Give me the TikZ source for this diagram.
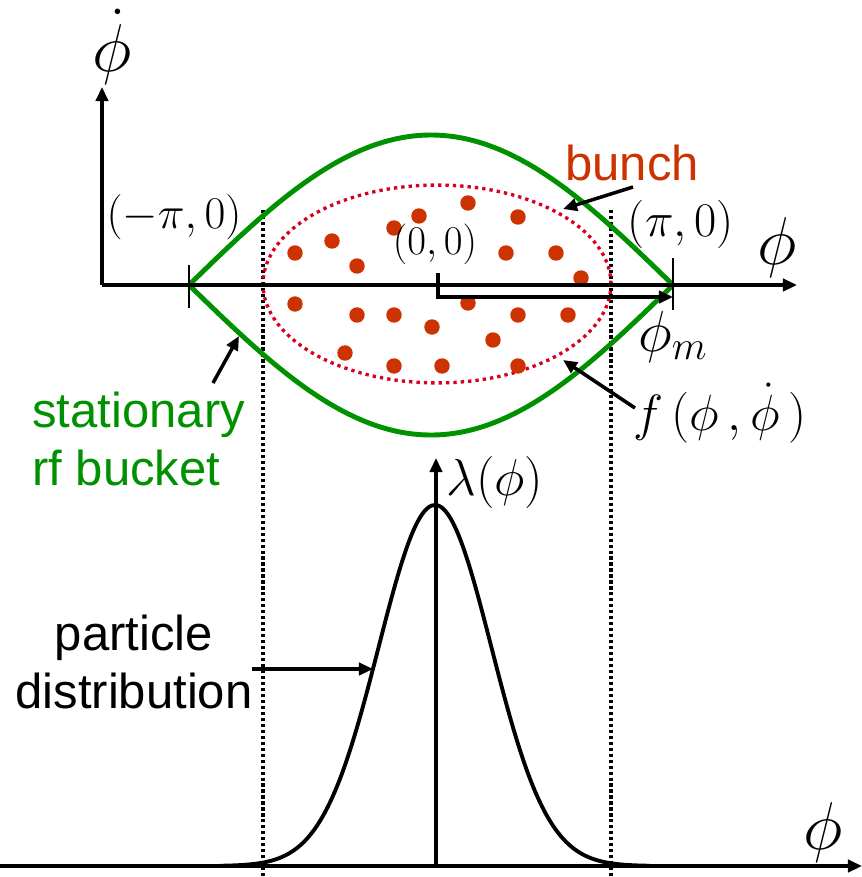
\RequirePackage{fix-cm}
\documentclass[tikz,border=0pt]{standalone}
\usepackage{fontspec}
\newfontfamily\arialf{Liberation Sans}
\usetikzlibrary{arrows.meta}
\definecolor{bucketgreen}{RGB}{0,145,0}
\definecolor{bunchred}{RGB}{204,51,0}
\definecolor{ellred}{RGB}{215,0,30}
\begin{document}
\begin{tikzpicture}[x=0.02cm,y=-0.02cm,
  axis/.style={line width=2pt,-{Triangle[length=8pt,width=7pt]}},
  pointer/.style={line width=2pt,-{Triangle[length=8pt,width=7pt]}},
  guide/.style={line width=2pt,dash pattern=on 1.8pt off 1.6pt},
  bucket/.style={draw=bucketgreen,line width=2.8pt},
  tick/.style={line width=1.4pt},
  lbl/.style={inner sep=0pt},
  sanslbl/.style={inner sep=0pt,font=\arialf\fontsize{27.9pt}{33pt}\selectfont},
  particle/.style={fill=bunchred}
]
\useasboundingbox (0,0) rectangle (862,877);

% guide lines
\coordinate (gl1) at (263,210); \coordinate (gl2) at (263,877);
\coordinate (gr1) at (611,210); \coordinate (gr2) at (611,877);
\draw[guide] (gl1) -- (gl2);
\draw[guide] (gr1) -- (gr2);

% bucket (separatrix)
\draw[bucket] plot[domain=-180:180,samples=91,smooth] ({431+242*(\x/180)},{285-150*cos(\x/2)})
  -- plot[domain=180:-180,samples=91,smooth] ({431+242*(\x/180)},{285+150*cos(\x/2)}) -- cycle;

% bunch ellipse
\draw[ellred,line width=1.9pt,dash pattern=on 1.9pt off 2.3pt] (437,284) ellipse [x radius=99pt, y radius=56.3pt];

% particles
\foreach \px/\py in {295/253,332/241,357/266,394/228,419/216,468/203,518/217,506/253,556/253,581/278,
  295/304,357/315,394/315,432/327,468/303,518/315,568/315,493/340,345/353,394/366,442/366,518/366}
  \fill[particle] (\px,\py) circle (4.4pt);

% top axes
\coordinate (origin) at (102,285);
\coordinate (xend) at (797,285);
\coordinate (yend) at (102,87);
\draw[axis] (origin) -- (xend);
\draw[axis] (origin) -- (yend);
\draw[tick] (189,265) -- (189,308);
\draw[tick] (673,258) -- (673,310);

% phi_m bracket
\coordinate (zero) at (438,273);
\coordinate (phimtip) at (673,297);
\draw[pointer] (zero) |- (phimtip);

% labels top
\node[lbl,anchor=base,font=\fontsize{38.5pt}{40pt}\selectfont] (phidot) at (112,71) {$\dot\phi$};
\node[lbl,font=\fontsize{25.8pt}{30pt}\selectfont] (negpi) at (174,217) {$(-\pi,0)$};
\node[lbl,font=\fontsize{27.5pt}{31pt}\selectfont] (pospi) at (681,224) {$(\pi,0)$};
\node[lbl,font=\fontsize{23.2pt}{27pt}\selectfont] (zerolbl) at (435,244) {$(0,0)$};
\node[lbl,anchor=base,font=\fontsize{38.5pt}{40pt}\selectfont] (phiaxis) at (777,264) {$\phi$};
\node[lbl,anchor=base west,font=\fontsize{33pt}{36pt}\selectfont] (phim) at (638,351) {$\phi_m$};
\node[lbl,anchor=base west,font=\fontsize{29pt}{32pt}\selectfont] (fdist) at (633,430) {$f\,(\phi\,,\dot\phi\,)$};

\node[sanslbl,anchor=base west,text=bunchred] (bunchlbl) at (565,180) {bunch};
\node[sanslbl,anchor=base west,text=bucketgreen,align=left] (bucketlbl) at (32,485) {stationary\\rf bucket};

% pointers top
\coordinate (bunchtail) at (633,187); \coordinate (bunchtip) at (563,209);
\draw[pointer] (bunchtail) -- (bunchtip);
\coordinate (ftail) at (635,408); \coordinate (ftip) at (563,360);
\draw[pointer] (ftail) -- (ftip);
\coordinate (stail) at (213,383); \coordinate (stip) at (239,336);
\draw[pointer] (stail) -- (stip);

% bottom plot
\coordinate (bo) at (0,866); \coordinate (be) at (862,866);
\coordinate (lo) at (436,866); \coordinate (le) at (436,458);
\draw[axis,line width=2.2pt] (bo) -- (be);
\draw[axis] (lo) -- (le);
\draw[line width=2.2pt] plot[domain=-215:215,samples=121,smooth] ({435+\x},{866-361*exp(-1.574*(\x/100)*(\x/100))});

\node[lbl,font=\fontsize{29.6pt}{33pt}\selectfont] (lambda) at (495,482) {$\lambda(\phi)$};
\node[lbl,anchor=base,font=\fontsize{38.5pt}{40pt}\selectfont] (phibot) at (823,849) {$\phi$};

\node[sanslbl,align=center,anchor=base] (partlbl) at (134,708) {particle\\distribution};
\coordinate (ptail) at (252,669); \coordinate (ptip) at (373,669);
\draw[pointer] (ptail) -- (ptip);
\end{tikzpicture}
\end{document}
